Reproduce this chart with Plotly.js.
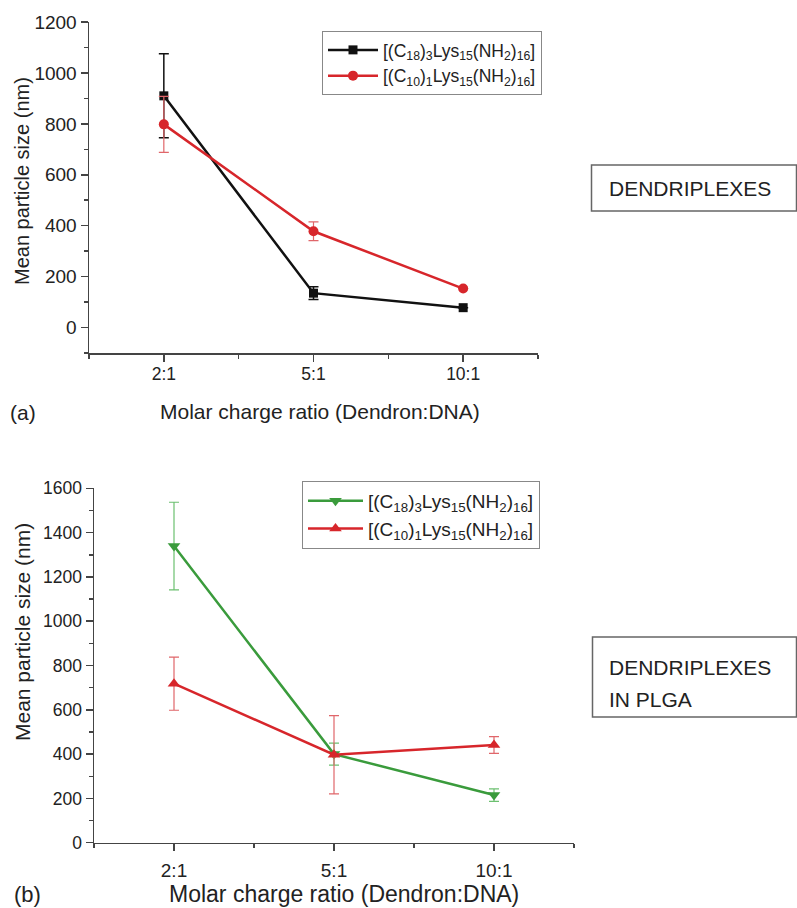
<!DOCTYPE html>
<html><head><meta charset="utf-8">
<script src="https://cdn.plot.ly/plotly-3.0.1.min.js"></script>
<style>html,body{margin:0;padding:0;background:#fff}#chart{width:797px;height:908px}</style>
</head><body><div id="chart"></div>
<script>
// ---- data ----
const categories = ['2:1', '5:1', '10:1'];
const nameC18 = '[(C<sub>18</sub>)<sub>3</sub>Lys<sub>15</sub>(NH<sub>2</sub>)<sub>16</sub>]';
const nameC10 = '[(C<sub>10</sub>)<sub>1</sub>Lys<sub>15</sub>(NH<sub>2</sub>)<sub>16</sub>]';
// panel (a): dendriplexes
const aC18 = [910, 135, 78];
const aC18Err = [165, 25, 0];
const aC10 = [798, 378, 153];
const aC10Err = [110, 37, 0];
// panel (b): dendriplexes in PLGA
const bC18 = [1339, 400, 215];
const bC18Err = [198, 50, 28];
const bC10 = [718, 397, 441];
const bC10Err = [120, 177, 38];
const yTicksA = [0, 200, 400, 600, 800, 1000, 1200];
const yTicksB = [0, 200, 400, 600, 800, 1000, 1200, 1400, 1600];

// ---- helpers ----
const W = 797, H = 908;
const px = p => p / W;
const py = p => 1 - p / H;
const xIdx = categories.map((c, i) => i);

const FONT = 'Liberation Sans, Arial, Helvetica, sans-serif';
const TXT = '#222';
const AX = '#444';
const BLACK = '#111111';
const RED = '#d7262b';
const RED_ERR = '#e0666a';
const GREEN = '#3a9b3c';
const GREEN_ERR = '#6cc070';

const traces = [
  {x: xIdx, y: aC18, name: nameC18, xaxis: 'x', yaxis: 'y', legend: 'legend',
   mode: 'lines+markers', line: {color: BLACK, width: 2.5},
   marker: {symbol: 'square', size: 9, color: BLACK},
   error_y: {type: 'data', array: aC18Err, visible: true, color: BLACK, thickness: 1.5, width: 5}},
  {x: xIdx, y: aC10, name: nameC10, xaxis: 'x', yaxis: 'y', legend: 'legend',
   mode: 'lines+markers', line: {color: RED, width: 2.5},
   marker: {symbol: 'circle', size: 10, color: RED},
   error_y: {type: 'data', array: aC10Err, visible: true, color: RED_ERR, thickness: 1.2, width: 5}},
  {x: xIdx, y: bC18, name: nameC18, xaxis: 'x2', yaxis: 'y2', legend: 'legend2',
   mode: 'lines+markers', line: {color: GREEN, width: 2.5},
   marker: {symbol: 'triangle-down', size: 11, color: GREEN},
   error_y: {type: 'data', array: bC18Err, visible: true, color: GREEN_ERR, thickness: 1.2, width: 5}},
  {x: xIdx, y: bC10, name: nameC10, xaxis: 'x2', yaxis: 'y2', legend: 'legend2',
   mode: 'lines+markers', line: {color: RED, width: 2.5},
   marker: {symbol: 'triangle-up', size: 11, color: RED},
   error_y: {type: 'data', array: bC10Err, visible: true, color: RED_ERR, thickness: 1.2, width: 5}}
];

function xAxis(domain, anchor, fs, standoff) {
  return {
    domain: domain, anchor: anchor, range: [-0.5, 2.5],
    tickmode: 'array', tickvals: xIdx, ticktext: categories,
    ticks: 'outside', ticklen: 7, tickwidth: 1.5, tickcolor: AX,
    ticklabelstandoff: standoff,
    minor: {tickmode: 'array', tickvals: [-0.5, 0.5, 1.5, 2.5], ticks: 'outside', ticklen: 4, tickwidth: 1.5, tickcolor: AX},
    showline: true, linecolor: AX, linewidth: 1.5,
    showgrid: false, zeroline: false, fixedrange: true,
    tickfont: {family: FONT, size: fs, color: TXT}
  };
}
function yAxis(domain, anchor, range, tv, fs) {
  return {
    domain: domain, anchor: anchor, range: range,
    tickmode: 'array', tickvals: tv,
    ticks: 'outside', ticklen: 7, tickwidth: 1.5, tickcolor: AX,
    minor: {dtick: 100, tick0: 0, ticks: 'outside', ticklen: 4, tickwidth: 1.5, tickcolor: AX},
    showline: true, linecolor: AX, linewidth: 1.5,
    showgrid: false, zeroline: false, fixedrange: true,
    tickfont: {family: FONT, size: fs, color: TXT}
  };
}

const legendCommon = {
  xref: 'paper', yref: 'paper', xanchor: 'left', yanchor: 'top',
  bgcolor: '#fff', bordercolor: '#888', borderwidth: 1,
  tracegroupgap: 0
};

const ann = (text, x, y, size, opts) => Object.assign({
  text: text, x: px(x), y: py(y), xref: 'paper', yref: 'paper',
  xanchor: 'center', yanchor: 'middle',
  showarrow: false, font: {family: FONT, size: size, color: TXT}
}, opts || {});

const layout = {
  width: W, height: H, autosize: false,
  margin: {l: 0, r: 0, t: 0, b: 0},
  paper_bgcolor: '#fff', plot_bgcolor: '#fff',
  font: {family: FONT, color: TXT},
  xaxis: xAxis([px(89), px(538)], 'y', 17.5, -3),
  yaxis: yAxis([py(353), py(22)], 'x', [-100, 1200], yTicksA, 19),
  xaxis2: xAxis([px(94), px(574)], 'y2', 19, 3),
  yaxis2: yAxis([py(842.7), py(488.3)], 'x2', [0, 1600], yTicksB, 17.5),
  legend: Object.assign({}, legendCommon, {x: px(322), y: py(31), itemwidth: 50,
    font: {family: FONT, size: 17.5, color: TXT}}),
  legend2: Object.assign({}, legendCommon, {x: px(302), y: py(481), itemwidth: 55,
    font: {family: FONT, size: 19, color: TXT}}),
  shapes: [
    {type: 'rect', xref: 'paper', yref: 'paper', x0: px(591.5), x1: px(796.5), y0: py(211), y1: py(165), line: {color: '#666', width: 1.5}},
    {type: 'rect', xref: 'paper', yref: 'paper', x0: px(592.5), x1: px(796.5), y0: py(717), y1: py(637), line: {color: '#666', width: 1.5}}
  ],
  annotations: [
    ann('Mean particle size (nm)', 22, 181, 20, {textangle: -90}),
    ann('Molar charge ratio (Dendron:DNA)', 320, 411, 21),
    ann('(a)', 8, 412, 21, {xanchor: 'left'}),
    ann('Mean particle size (nm)', 22, 632, 21, {textangle: -90}),
    ann('Molar charge ratio (Dendron:DNA)', 344, 894, 23),
    ann('(b)', 12, 894, 22, {xanchor: 'left'}),
    ann('DENDRIPLEXES', 607, 188, 21, {xanchor: 'left'}),
    ann('DENDRIPLEXES', 607, 667, 21, {xanchor: 'left'}),
    ann('IN PLGA', 607, 699, 21, {xanchor: 'left'})
  ]
};

Plotly.newPlot('chart', traces, layout, {displayModeBar: false, staticPlot: true});
</script>
</body></html>
